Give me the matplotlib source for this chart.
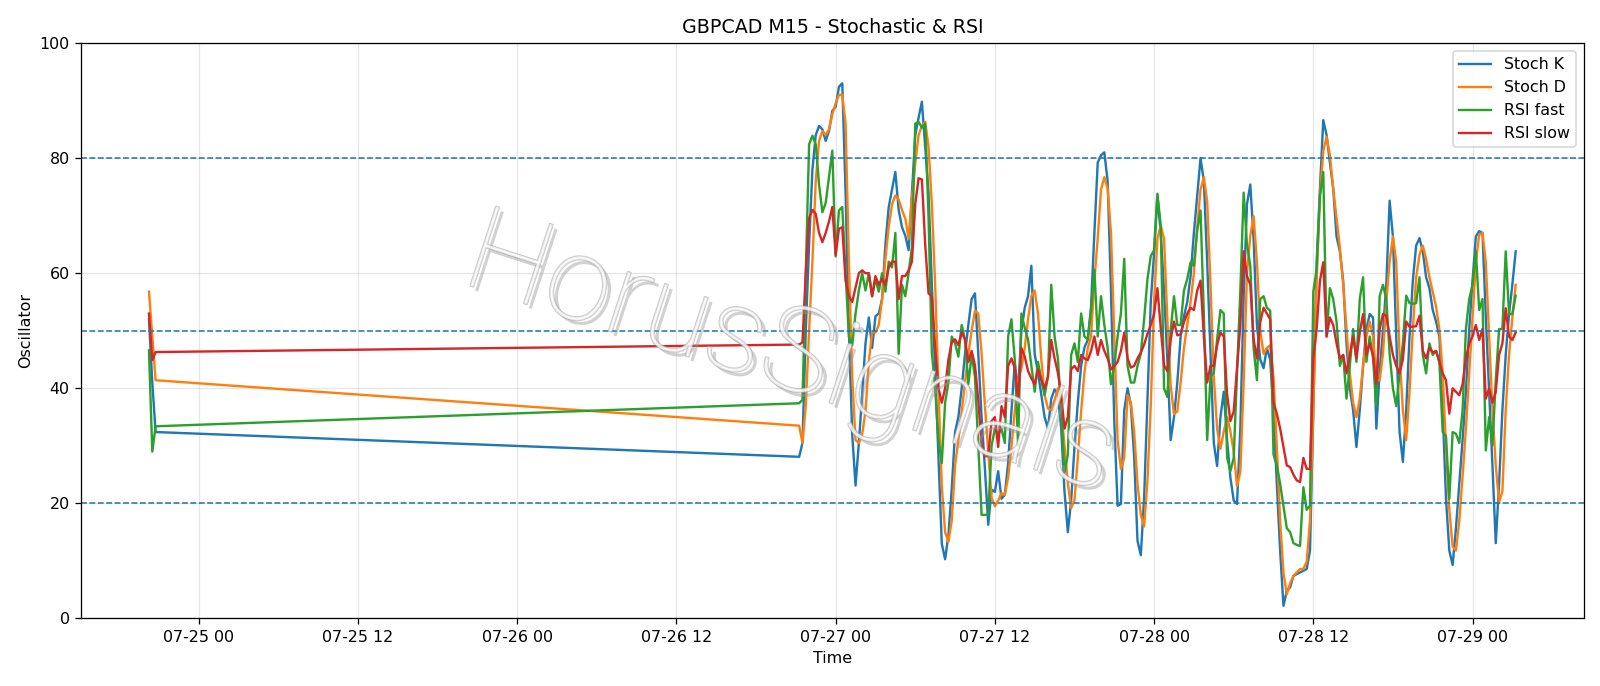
import pandas as pd
import matplotlib
matplotlib.use("Agg")
import matplotlib.pyplot as plt
import matplotlib.dates as mdates
import matplotlib.patheffects as pe

# bar times: Friday close then Sunday open onwards (M15)
fri_times = pd.date_range("2020-07-24 20:15", periods=3, freq="15min")
week_times = pd.date_range("2020-07-26 21:15", periods=217, freq="15min")
times = fri_times.append(week_times)

stoch_k = [
    52, 41, 32.4,
    28.1, 30.5, 50, 65, 78, 84, 85.6, 85, 83, 84.7, 88.2, 88.9, 92.4, 93, 74, 50,
    32, 23.1, 30.5, 39, 47.8, 52.3, 47, 52.5, 53, 55.5, 65, 71.5, 74.5, 77.6, 71, 68,
    66.5, 64, 74, 84, 87, 89.8, 82, 74, 58, 43, 28, 13, 10.3, 14.5, 22.5, 32.4,
    35, 40, 46, 51, 55.5, 56.5, 46, 35, 26, 16.3, 22.4, 22, 25.6, 20.8, 21.5, 27,
    36, 44.5, 39.4, 50, 54, 56, 61.3, 46, 42.7, 38.8, 35, 33, 38.2, 39.8, 39, 33,
    22, 15, 20.5, 29.8, 37.5, 43.9, 47.1, 48.4, 54.2, 67, 79.2, 80.5, 81, 76, 57, 34.3,
    19.6, 19.9, 36.2, 40, 37, 28, 13.5, 11, 21, 38, 55, 63.5, 73.5, 67, 57, 45,
    31, 35, 41, 49, 52.5, 55, 59.5, 67, 73.5, 80, 76, 62, 46, 30.5, 26.5, 35,
    39.4, 31, 24.5, 20.5, 19.9, 33, 56, 72, 75.4, 66, 51, 45, 43.5, 47, 45, 36.2,
    23.4, 11.8, 2.2, 4.8, 5.4, 7.4, 7.7, 8, 8.3, 8.6, 11.8, 36.2, 61.9, 74.7, 86.6, 84,
    79.2, 74.7, 66.4, 63.8, 58.7, 47.8, 40, 36.2, 29.8, 36.2, 43.9, 50.3, 52.9, 52.3, 33, 43,
    50, 58, 72.6, 66.4, 49, 32.4, 27.2, 36.2, 49, 58.7, 64.8, 66.1, 63.8, 59.3, 57.4, 53.6,
    51.6, 49, 36.2, 20.8, 11.8, 9.3, 15.7, 23.4, 31.1, 39.4, 50.3, 58.7, 66.4, 67.3, 67, 52.3,
    39.4, 26.6, 13.1, 23.4, 36.2, 45.8, 52.9, 58, 63.8,
]

stoch_d = [
    56.8, 49, 41.4,
    33.5, 30.5, 37, 50, 62, 76, 83, 84.7, 84, 85, 87.6, 89.5, 91, 91, 86, 62,
    42, 31, 30.5, 32, 36, 44.6, 49.7, 49.7, 51, 55.5, 62.5, 68, 72, 73.5, 72.8, 71,
    69.5, 66, 73, 79, 84, 85.6, 86.3, 82, 72, 58, 40, 23, 15, 13.3, 17, 26.6,
    31, 36, 41, 46, 50, 53.5, 53, 46, 37, 29, 21, 19.5, 20.5, 21.8, 21.5, 24.5,
    29.8, 36, 41.4, 43.5, 47, 52, 56, 57, 53, 45, 38.8, 36.5, 36.2, 38, 40, 36.5,
    30, 23.5, 19.2, 20.5, 27.9, 36, 42.7, 47, 49, 58.7, 66, 74.5, 76.7, 74.7, 67, 49,
    31, 26, 27.9, 38.8, 37.5, 32.4, 23.4, 18, 16, 24, 37, 55, 66, 68.3, 66, 52,
    40.5, 35.5, 36, 41, 47, 51, 55, 60, 68, 74.5, 76.7, 72.5, 58, 42, 33, 29.5,
    32.5, 35, 32.5, 29, 23, 25.5, 41, 60, 66.5, 69.9, 62, 50, 46, 47, 47.5, 42,
    29.8, 17, 8, 4.2, 6.1, 7.4, 8, 8.6, 8.6, 9.9, 17, 36.2, 58.7, 73.5, 81.2, 83.7,
    80.5, 74.7, 69.6, 64.5, 58, 50.3, 42.7, 37.5, 35, 38.2, 43.9, 49, 51.6, 49, 41.4, 41.4,
    46, 55, 62, 66.4, 61.9, 45.8, 36.2, 31, 39.4, 50.3, 59.3, 63.2, 64.8, 62.5, 59.3, 56.8,
    54.2, 50.3, 42.6, 29.8, 18.9, 12.5, 11.8, 17, 24.7, 33, 42.6, 52.3, 61.9, 66.7, 67, 61.9,
    49, 36.2, 26.6, 20.2, 22.1, 36.2, 45.8, 52.3, 58,
]

rsi_fast = [
    46.6, 29, 33.4,
    37.4, 38, 60, 82.4, 83.9, 82.4, 75.4, 70.6, 72.2, 76.7, 81.3, 62.9, 70.9, 71.5, 60, 49,
    47.5, 53, 57, 60, 57, 60, 56, 59, 56.8, 60, 56.8, 62, 61, 67, 46, 58,
    56, 60, 64.5, 86, 86.3, 85.3, 86, 70, 46.2, 40, 31, 27, 37.5, 41, 49, 47.8,
    45.5, 51, 48.4, 40.7, 45.8, 42, 30, 18, 18, 18, 30, 33, 32, 33, 30.5, 49,
    52, 45, 30.1, 53, 50.5, 48.5, 44, 39.4, 44.6, 41.4, 38.8, 42, 58, 49, 45.2, 36.2,
    25.3, 28.5, 45.8, 47.8, 44.6, 53, 49, 48.5, 53.6, 60.6, 49, 56, 51, 47, 40.7, 43.9,
    49, 53, 62.5, 43.9, 41, 41, 43.9, 46, 52, 59, 63, 64, 73.8, 68.3, 40, 38.5,
    50, 56, 51, 51, 57, 59, 61.9, 61.3, 67.5, 70.9, 53, 31, 42, 42.7, 48.5, 53.6,
    53, 28, 25.6, 27.9, 42.7, 57, 74, 65, 61.3, 47, 41.4, 55.5, 56, 54, 53.5, 28.5,
    26.6, 23.4, 19.6, 15.7, 15, 13.1, 12.8, 12.6, 22.8, 18.9, 19.6, 56.8, 60.6, 73.5, 77.6, 49,
    57.4, 55.5, 51.6, 43.9, 45.8, 38.2, 43.9, 50.3, 44.6, 55.5, 59.3, 44.6, 49, 45.2, 36.9, 56,
    58, 55.5, 46, 40, 36.9, 42.6, 47.8, 56.1, 54.8, 54.7, 54.8, 59.3, 45.8, 42.6, 47.8, 45.8,
    46.5, 44.6, 32.4, 31.7, 20.8, 32.4, 32.1, 30.5, 36.2, 50.3, 55.5, 58, 63.8, 53.6, 55.5, 29.2,
    35, 30.1, 41.4, 50.3, 50.3, 63.8, 52.9, 52.9, 56.1,
]

rsi_slow = [
    53, 44.9, 46.3,
    47.6, 48, 60, 69.6, 71, 70.3, 67, 65.4, 67, 69, 71.5, 63.2, 67.7, 68, 58.7, 56,
    55, 57.5, 60, 60.5, 60, 60, 56, 59.5, 58, 59, 58, 61, 62, 62, 55.5, 59.5,
    59.5, 60.5, 62, 72, 76.5, 76.3, 65, 56.5, 56, 47, 40, 37.5, 40, 45, 48, 48.5,
    47.5, 49.7, 48.5, 44.6, 46.5, 44, 38, 30, 28.2, 28.2, 34.3, 35, 29.8, 36.9, 35, 43.9,
    45.2, 43.5, 38, 47, 45.5, 43, 41.7, 40.7, 43.3, 41.5, 40, 42, 48.4, 45.2, 42.7, 38.8,
    33, 35, 43.3, 43.9, 43, 45.8, 45.2, 44.9, 46.5, 49, 45.8, 48.4, 46.5, 45.2, 43.3, 43.9,
    44.6, 46.5, 49.7, 45.2, 43.6, 43.9, 45.2, 46.2, 47.6, 49.5, 51, 52.9, 57.4, 50.5, 44, 43,
    48.5, 51.6, 49.2, 49.4, 51.5, 53, 54, 53.6, 57, 58.7, 49, 41, 43.9, 43.9, 47.5, 49.7,
    49, 39, 34.3, 36, 43.5, 51, 63.8, 59.5, 58, 48.5, 45.2, 51.5, 54, 53, 52, 37.5,
    35.6, 33, 29.8, 26.6, 26.3, 25, 24, 23.7, 27.9, 26, 26, 45.2, 50.3, 58.7, 61.9, 49,
    52.3, 51, 47.8, 45.2, 45.8, 42.6, 45.8, 49, 45.2, 49.7, 52.9, 45.8, 47.8, 45.8, 40.7, 50.3,
    52.9, 52.6, 49, 45.8, 43.9, 42.6, 45, 51.6, 50.7, 50.7, 50.8, 52.6, 46.5, 45.2, 47.1, 46.2,
    46.5, 44.6, 42.6, 41.4, 35.6, 40, 39.4, 38.8, 40.7, 45.2, 47.8, 49, 51, 48.4, 50.3, 38.2,
    40, 37.5, 39.4, 45.8, 47.8, 53.9, 49, 48.4, 49.7,
]

levels = [80, 50, 20]

DPI = 1600 / 14
fig = plt.figure(figsize=(14, 686 / DPI), dpi=DPI)
ax = fig.add_axes([0.0504, 0.0984, 0.9396, 0.8389])

ax.plot(times, stoch_k, label="Stoch K")
ax.plot(times, stoch_d, label="Stoch D")
ax.plot(times, rsi_fast, label="RSI fast")
ax.plot(times, rsi_slow, label="RSI slow")
for lvl in levels:
    ax.axhline(lvl, color="C0", linestyle="--", linewidth=1)

ax.set_ylim(0, 100)
ax.set_title("GBPCAD M15 - Stochastic & RSI")
ax.set_xlabel("Time")
ax.set_ylabel("Oscillator")
ax.xaxis.set_major_locator(mdates.HourLocator(byhour=[0, 12]))
ax.xaxis.set_major_formatter(mdates.DateFormatter("%m-%d %H"))
ax.grid(True, alpha=0.3)
ax.legend(loc="upper right")

# watermark (hollow grey letters with a soft shadow)
fig.text(0.494, 0.48, "HorusSignals", fontsize=74, family=["Roboto", "DejaVu Sans"],
         fontweight="light", color="white", alpha=0.6,
         rotation=-18, ha="center", va="center", zorder=10,
         path_effects=[pe.SimplePatchShadow(offset=(3, -3), shadow_rgbFace="0.6", alpha=0.45),
                       pe.Stroke(linewidth=1.2, foreground="0.65"),
                       pe.Normal()])

fig.savefig("out.png", dpi=DPI)
